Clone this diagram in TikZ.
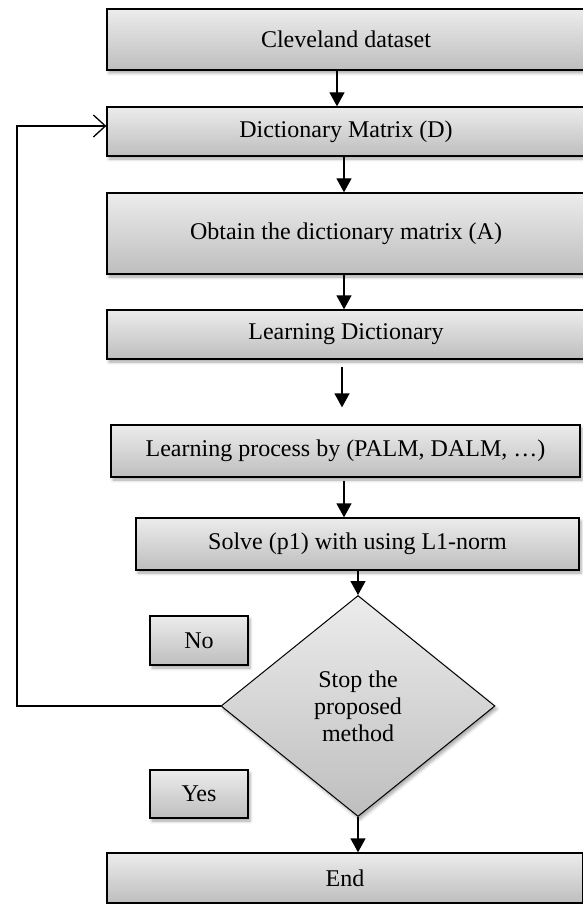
\documentclass[tikz,border=0pt]{standalone}
\usepackage{fontspec}
\setmainfont{Liberation Serif}
\usetikzlibrary{arrows.meta,shapes.geometric,shadows.blur,calc}
\definecolor{topg}{RGB}{236,236,236}
\definecolor{botg}{RGB}{190,190,190}
\begin{document}
\begin{tikzpicture}[x=1pt,y=-1pt,
  box/.style={draw=black, line width=1.3pt, top color=topg, bottom color=botg,
    inner sep=0pt, font=\fontsize{24}{27}\selectfont, align=center,
    blur shadow={shadow xshift=2pt, shadow yshift=-3pt, shadow blur radius=3pt, shadow opacity=35}},
  arr/.style={line width=1.3pt, -{Triangle[length=14pt,width=15pt]}},
  fbarr/.style={line width=1.3pt, -{Straight Barb[length=12pt,width=22pt]}}
  ]
\useasboundingbox (0,0) rectangle (583,904);
\node[box, minimum width=478pt, minimum height=61pt] (b1) at (346,39.5) {Cleveland dataset};
\node[box, minimum width=478pt, minimum height=49pt] (b2) at (346,131.5) {Dictionary Matrix (D)};
\node[box, minimum width=478pt, minimum height=81pt] (b3) at (346,233.5) {Obtain the dictionary matrix (A)};
\node[box, minimum width=478pt, minimum height=49pt] (b4) at (346,334.5) {Learning Dictionary};
\node[box, minimum width=469pt, minimum height=52pt] (b5) at (345.5,451) {Learning process by (PALM, DALM, …)};
\node[box, minimum width=443pt, minimum height=52pt] (b6) at (357.5,544) {Solve (p1) with using L1-norm};
\node[box, diamond, line width=1pt, minimum width=274pt, minimum height=221pt] (dia) at (358,706) {Stop the\\proposed\\method};
\node[box, minimum width=98pt, minimum height=49pt] (no) at (199,640.5) {No};
\node[box, minimum width=98pt, minimum height=48pt] (yes) at (199,794) {Yes};
\node[box, minimum width=476pt, minimum height=50pt] (end) at (345,878) {End};

\coordinate (c1) at (337,0);
\coordinate (c2) at (344,0);
\coordinate (c4) at (342,0);
\coordinate (fb) at (17,126);

\draw[arr] (b1.south -| c1) -- (b2.north -| c1);
\draw[arr] (b2.south -| c2) -- (b3.north -| c2);
\draw[arr] (b3.south -| c2) -- (b4.north -| c2);
\draw[arr] ($(b4.south -| c4)+(0,7)$) -- ($(b5.north -| c4)+(0,-17)$);
\draw[arr] ($(b5.south -| c2)+(0,3)$) -- (b6.north -| c2);
\draw[arr] (b6.south -| dia.north) -- (dia.north);
\draw[arr] (dia.south) -- (end.north -| dia.south);
\draw[fbarr] (dia.west) -| (fb) -- (fb -| b2.west);
\end{tikzpicture}
\end{document}
